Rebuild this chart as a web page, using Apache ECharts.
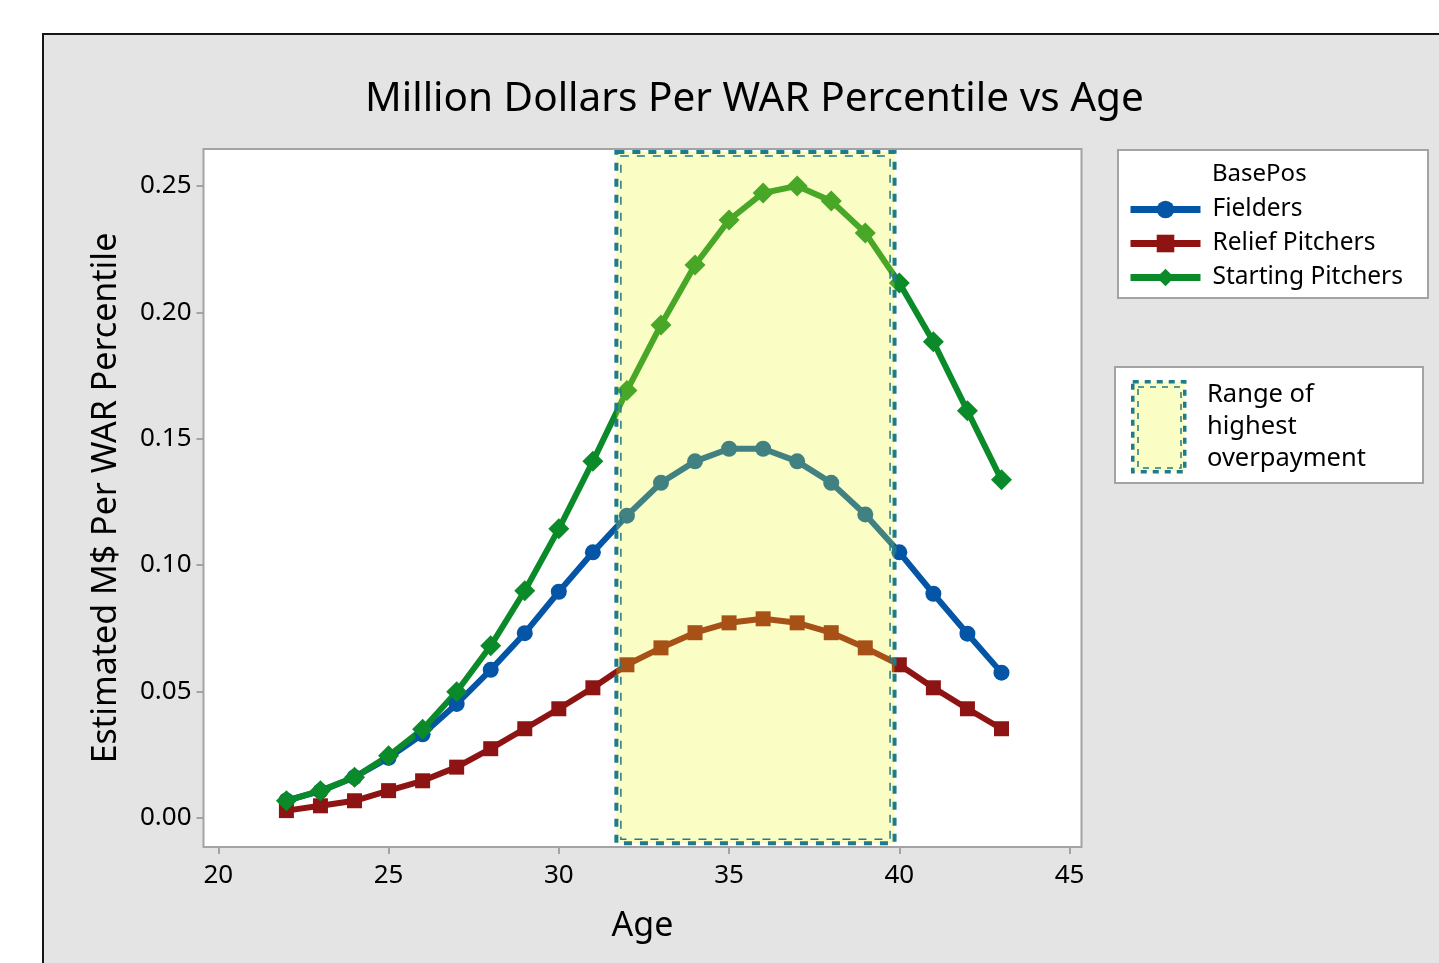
<!DOCTYPE html>
<html>
<head>
<meta charset="utf-8">
<script src="https://cdn.jsdelivr.net/npm/echarts@6/dist/echarts.min.js"></script>
<style>
html,body{margin:0;padding:0;background:#fff;}
#chart{width:1439px;height:963px;}
</style>
</head>
<body>
<div id="chart"></div>
<script>
// ---- data ----
const ages = [22,23,24,25,26,27,28,29,30,31,32,33,34,35,36,37,38,39,40,41,42,43];
const fielders = [0.0068,0.0105,0.016,0.0237,0.033,0.045,0.0585,0.073,0.0894,0.105,0.1195,0.1325,0.141,0.146,0.146,0.141,0.1325,0.12,0.105,0.0886,0.0728,0.0574];
const reliefPitchers = [0.0028,0.0047,0.0067,0.0107,0.0146,0.020,0.0273,0.0352,0.0431,0.0514,0.0605,0.0672,0.0732,0.0771,0.0787,0.0771,0.0732,0.0672,0.0605,0.0514,0.0431,0.0352];
const startingPitchers = [0.0067,0.0107,0.016,0.0245,0.035,0.0498,0.068,0.0898,0.1143,0.141,0.169,0.195,0.2187,0.2365,0.2472,0.25,0.244,0.2314,0.2116,0.1883,0.161,0.1337];
const xTicks = [20,25,30,35,40,45];
const yTicks = [0,0.05,0.10,0.15,0.20,0.25];
// range of highest overpayment: [ageFrom, ageTo, yFrom, yTo]
const overpayRange = [31.69, 39.86, -0.0101, 0.2634];
const seriesNames = ['Fielders','Relief Pitchers','Starting Pitchers'];

const FONT = '"Noto Sans", "Open Sans", sans-serif';
const TEAL = '#1f7a8c';
const pair = (arr) => ages.map((a, i) => [a, arr[i]]);

const chart = echarts.init(document.getElementById('chart'), null, {renderer:'canvas'});

const lineSeries = (name, arr, color, symbol, size) => ({
  name, type:'line', data: pair(arr), z: 2,
  lineStyle:{color, width:6},
  itemStyle:{color},
  symbol, symbolSize: size, showSymbol:true,
  emphasis:{disabled:true}, animation:false
});

const option = {
  animation:false,
  backgroundColor:'#ffffff',
  graphic:[
    {type:'rect', left:42, top:33, z:-10, shape:{width:1420, height:950}, style:{fill:'#e4e4e4', stroke:'#151515', lineWidth:2}},
    // legend 1 box
    {type:'rect', left:1117, top:149, z:0, shape:{width:310, height:148}, style:{fill:'#fff', stroke:'#a3a3a3', lineWidth:2}},
    {type:'text', left:1212, top:162, z:1, style:{text:'BasePos', font:'24px ' + FONT, fill:'#000'}},
    // legend 2 box
    {type:'rect', left:1114, top:366, z:0, shape:{width:308, height:116}, style:{fill:'#fff', stroke:'#a3a3a3', lineWidth:2}},
    {type:'rect', left:1131, top:380, z:1, shape:{width:52, height:90}, style:{fill:'#fafdc4', stroke:TEAL, lineWidth:3.5, lineDash:[6,6]}},
    {type:'rect', left:1135.5, top:384.5, z:1, shape:{width:43, height:81}, style:{fill:null, stroke:TEAL, lineWidth:1.5, lineDash:[6,6]}},
    {type:'text', left:1207, top:379, z:1, style:{text:'Range of\nhighest\noverpayment', font:'25.5px ' + FONT, lineHeight:32, fill:'#000'}}
  ],
  title:{
    text:'Million Dollars Per WAR Percentile vs Age',
    left:360, top:74,
    textStyle:{fontFamily:FONT, fontSize:40.5, fontWeight:'normal', color:'#000'}
  },
  legend:{
    data: seriesNames,
    orient:'vertical', left:1127, top:197,
    itemWidth:70, itemHeight:22, itemGap:9,
    padding:0,
    textStyle:{fontFamily:FONT, fontSize:24.5, color:'#000', padding:[0,0,0,7]},
    lineStyle:{width:7},
    selectedMode:false
  },
  grid:{
    left:203.5, right:357.5, top:149, bottom:116,
    show:true, backgroundColor:'#fff', borderColor:'#a3a3a3', borderWidth:2,
    containLabel:false
  },
  xAxis:{
    type:'value', min:19.565, max:45.35,
    name:'Age', nameLocation:'middle', nameGap:62,
    nameTextStyle:{fontFamily:FONT, fontSize:34, color:'#000'},
    axisLine:{show:false, onZero:false},
    splitLine:{show:false},
    axisTick:{show:true, length:7, lineStyle:{color:'#a3a3a3', width:2}, customValues:xTicks},
    axisLabel:{show:true, customValues:xTicks, fontFamily:FONT, fontSize:26, color:'#000', margin:16}
  },
  yAxis:{
    type:'value', min:-0.0116, max:0.2646,
    name:'Estimated M$ Per WAR Percentile', nameLocation:'middle', nameGap:80, nameRotate:90,
    nameTextStyle:{fontFamily:FONT, fontSize:34, color:'#000'},
    axisLine:{show:false, onZero:false},
    splitLine:{show:false},
    axisTick:{show:true, length:7, lineStyle:{color:'#a3a3a3', width:2}, customValues:yTicks},
    axisLabel:{show:true, customValues:yTicks, fontFamily:FONT, fontSize:26, color:'#000', margin:12,
      formatter:(v)=>v.toFixed(2)}
  },
  series:[
    lineSeries('Fielders', fielders, '#0455a5', 'circle', 16),
    lineSeries('Relief Pitchers', reliefPitchers, '#8e1413', 'rect', 15),
    lineSeries('Starting Pitchers', startingPitchers, '#0b8a29', 'diamond', 21),
    {
      type:'custom', name:'Range of highest overpayment', z:10, clip:false, silent:true,
      data:[overpayRange],
      encode:{x:[0,1], y:[2,3]},
      renderItem:(params, api) => {
        const p0 = api.coord([api.value(0), api.value(3)]);
        const p1 = api.coord([api.value(1), api.value(2)]);
        const x = p0[0], y = p0[1], w = p1[0]-p0[0], h = p1[1]-p0[1];
        return {type:'group', children:[
          {type:'rect', shape:{x, y, width:w, height:h}, style:{fill:'rgba(237,248,37,0.27)'}},
          {type:'rect', shape:{x, y, width:w, height:h}, style:{fill:null, stroke:TEAL, lineWidth:4, lineDash:[8,8]}},
          {type:'rect', shape:{x:x+4.5, y:y+4, width:w-9, height:h-8}, style:{fill:null, stroke:TEAL, lineWidth:1.5, lineDash:[8,8]}}
        ]};
      }
    }
  ]
};
chart.setOption(option);
</script>
</body>
</html>
